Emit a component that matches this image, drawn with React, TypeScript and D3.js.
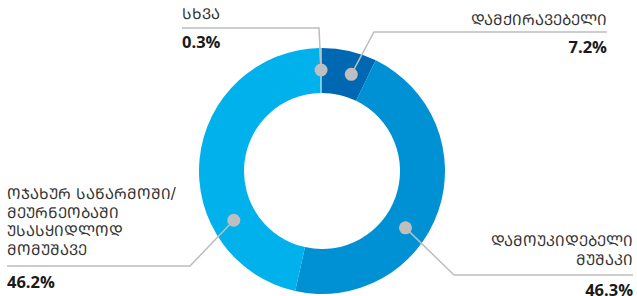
import React, { useEffect, useRef } from "react";
import * as d3 from "d3";

// donut data
const categories = ["დამქირავებელი", "დამოუკიდებელი მუშაკი", "ოჯახურ საწარმოში/ მეურნეობაში უსასყიდლოდ მომუშავე", "სხვა"];
const values = [7.2, 46.3, 46.2, 0.3];
const colors = ["#0068b3", "#0091d4", "#00b1eb", "#5ccdf4"];

// label layout (lines of text, anchor side, positions)
const labelLines = [["დამქირავებელი"], ["დამოუკიდებელი", "მუშაკი"], ["ოჯახურ საწარმოში/", "მეურნეობაში", "უსასყიდლოდ", "მომუშავე"], ["სხვა"]];
const labelLayout = [
  { x: 607, anchor: "end", nameY: 25, lineY: 32, elbowX: 374, pctY: 53, dotAt: 0.65 },
  { x: 633, anchor: "end", nameY: 246, lineY: 275, elbowX: 454, pctY: 296, dotAt: 0.59 },
  { x: 7, anchor: "start", nameY: 199, lineY: 266, elbowX: 190, pctY: 288, dotAt: 0.29 },
  { x: 182, anchor: "start", nameY: 19, lineY: 28, elbowX: 319, pctY: 48, dotAt: 0.5 },
];

// Mkhedruli -> Mtavruli (capital Georgian letters)
const mtavruli = (s: string) =>
  s.replace(/[\u10D0-\u10FA]/g, (c) => String.fromCharCode(c.charCodeAt(0) - 0x10d0 + 0x1c90));

const W = 637, H = 296;
const cx = 322, cy = 171;
const outerR = 123, innerR = 78, dotR = 101;

export default function App() {
  const ref = useRef<SVGSVGElement>(null);

  useEffect(() => {
    const svg = d3.select(ref.current);
    svg.selectAll("*").remove();

    const pie = d3.pie<number>().sort(null).value((d) => d);
    const arcs = pie(values);
    const arc = d3.arc<d3.PieArcDatum<number>>().innerRadius(innerR).outerRadius(outerR);

    const g = svg.append("g").attr("transform", `translate(${cx},${cy})`);
    g.selectAll("path")
      .data(arcs)
      .enter()
      .append("path")
      .attr("d", arc)
      .attr("fill", (d, i) => colors[i]);

    arcs.forEach((a, i) => {
      const L = labelLayout[i];
      const ang = a.startAngle + (a.endAngle - a.startAngle) * L.dotAt;
      const dx = cx + Math.sin(ang) * dotR;
      const dy = cy - Math.cos(ang) * dotR;

      svg.append("polyline")
        .attr("points", `${L.x},${L.lineY} ${L.elbowX},${L.lineY} ${dx},${dy}`)
        .attr("fill", "none")
        .attr("stroke", "#bdbdbd")
        .attr("stroke-width", 1.5);

      svg.append("circle")
        .attr("cx", dx)
        .attr("cy", dy)
        .attr("r", 6.5)
        .attr("fill", "#bfbfbf");

      const lines = labelLines[i];
      const t = svg.append("text")
        .attr("text-anchor", L.anchor)
        .attr("font-family", "'DejaVu Sans', 'Noto Sans', sans-serif")
        .attr("font-size", 15)
        .attr("fill", "#333");
      lines.forEach((ln, j) => {
        t.append("tspan").attr("x", L.x).attr("y", L.nameY + j * 18.7).text(mtavruli(ln));
      });

      svg.append("text")
        .attr("x", L.x)
        .attr("y", L.pctY)
        .attr("text-anchor", L.anchor)
        .attr("font-family", "'Open Sans', sans-serif")
        .attr("font-weight", "bold")
        .attr("font-size", 16.5)
        .attr("fill", "#1a1a1a")
        .text(d3.format(".1f")(values[i]) + "%");
    });
  }, []);

  return (
    <svg
      ref={ref}
      width={W}
      height={H}
      style={{ position: "absolute", left: 0, top: 0, background: "#fff" }}
      aria-label={categories.join(", ")}
    />
  );
}
